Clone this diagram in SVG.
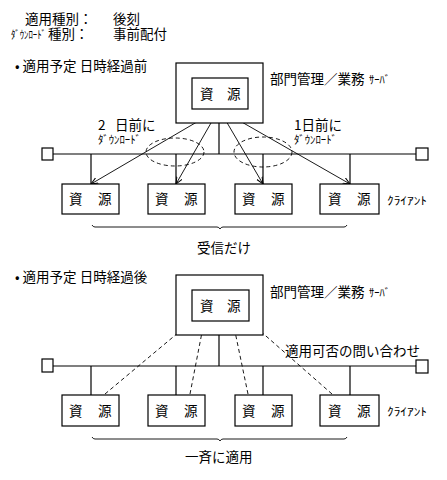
<svg xmlns="http://www.w3.org/2000/svg" width="447" height="480" viewBox="0 0 447 480">
<style>
text{font-family:"Noto Sans CJK JP","Noto Sans",sans-serif;fill:#000;font-size:13.5px}
.sm{font-size:11px}
.box{fill:#fff;stroke:#000;stroke-width:1.2}
.ln{fill:none;stroke:#000;stroke-width:1.2}
.ar{fill:none;stroke:#000;stroke-width:0.9}
.da{fill:none;stroke:#000;stroke-width:0.9;stroke-dasharray:4,3}
</style>
<defs>
<marker id="ah" markerWidth="8" markerHeight="8" refX="7" refY="4" orient="auto" markerUnits="userSpaceOnUse">
<path d="M0,1 L7,4 L0,7" fill="none" stroke="#000" stroke-width="1"/>
</marker>
</defs>
<rect width="447" height="480" fill="#fff"/>

<g id="header">
<text x="25" y="24">適用種別：</text>
<text x="113" y="24">後刻</text>
<text x="11" y="39" class="sm" textLength="35" lengthAdjust="spacingAndGlyphs">ﾀﾞｳﾝﾛｰﾄﾞ</text>
<text x="48" y="39">種別：</text>
<text x="113" y="39">事前配付</text>
<text x="15" y="71">• 適用予定 日時経過前</text>
<text x="15" y="282">• 適用予定 日時経過後</text>
</g>

<g id="connectors">
<line class="ln" x1="53" y1="154" x2="416" y2="154"/>
<line class="ln" x1="219" y1="123" x2="219" y2="154"/>
<line class="ln" x1="91" y1="154" x2="91" y2="184"/>
<line class="ln" x1="176" y1="154" x2="176" y2="184"/>
<line class="ln" x1="263" y1="154" x2="263" y2="184"/>
<line class="ln" x1="350" y1="154" x2="350" y2="184"/>
<line class="ar" x1="219" y1="109" x2="91" y2="184" marker-end="url(#ah)"/>
<line class="ar" x1="219" y1="109" x2="176" y2="184" marker-end="url(#ah)"/>
<line class="ar" x1="219" y1="109" x2="263" y2="184" marker-end="url(#ah)"/>
<line class="ar" x1="219" y1="109" x2="350" y2="184" marker-end="url(#ah)"/>
<ellipse class="da" cx="175" cy="152" rx="29" ry="14"/>
<ellipse class="da" cx="263" cy="152" rx="29" ry="15"/>
<path class="ar" d="M92,225 q1,2 3,2 H217 q2,0 3,2 q1,-2 3,-2 H344 q2,0 3,-2"/>
<line class="ln" x1="53" y1="366" x2="416" y2="366"/>
<line class="ln" x1="219" y1="335" x2="219" y2="366"/>
<line class="ln" x1="91" y1="366" x2="91" y2="395"/>
<line class="ln" x1="176" y1="366" x2="176" y2="395"/>
<line class="ln" x1="263" y1="366" x2="263" y2="395"/>
<line class="ln" x1="350" y1="366" x2="350" y2="395"/>
<line class="da" x1="105" y1="394" x2="191" y2="322" marker-end="url(#ah)"/>
<line class="da" x1="190" y1="394" x2="204" y2="322" marker-end="url(#ah)"/>
<line class="da" x1="248" y1="394" x2="233" y2="322" marker-end="url(#ah)"/>
<line class="da" x1="332" y1="394" x2="250" y2="322" marker-end="url(#ah)"/>
<path class="ar" d="M92,437 q1,2 3,2 H217 q2,0 3,2 q1,-2 3,-2 H344 q2,0 3,-2"/>
</g>

<g id="server1">
<rect class="box" x="176" y="63" width="87" height="60"/>
<rect class="box" x="192" y="78" width="56" height="31"/>
<text x="200" y="99">資</text>
<text x="227" y="99">源</text>
<text x="270" y="84">部門管理／業務</text>
<text x="369" y="84" class="sm" textLength="21" lengthAdjust="spacingAndGlyphs">ｻｰﾊﾞ</text>
</g>
<g id="term1L"><rect class="box" x="42" y="148" width="11" height="12"/></g>
<g id="term1R"><rect class="box" x="416" y="148" width="12" height="12"/></g>
<g id="c1a"><rect class="box" x="62" y="184" width="57" height="30"/><text x="69" y="204">資</text><text x="98" y="204">源</text></g>
<g id="c1b"><rect class="box" x="148" y="184" width="57" height="30"/><text x="155" y="204">資</text><text x="184" y="204">源</text></g>
<g id="c1c"><rect class="box" x="235" y="184" width="57" height="30"/><text x="242" y="204">資</text><text x="271" y="204">源</text></g>
<g id="c1d"><rect class="box" x="320" y="184" width="59" height="30"/><text x="328" y="204">資</text><text x="357" y="204">源</text></g>
<g id="labels1">
<text x="387" y="205" class="sm" textLength="40" lengthAdjust="spacingAndGlyphs">ｸﾗｲｱﾝﾄ</text>
<text x="98" y="130">2<tspan x="115">日前に</tspan></text>
<text x="98" y="144" class="sm" textLength="43" lengthAdjust="spacingAndGlyphs">ﾀﾞｳﾝﾛｰﾄﾞ</text>
<text x="294" y="130">1日前に</text>
<text x="294" y="144" class="sm" textLength="43" lengthAdjust="spacingAndGlyphs">ﾀﾞｳﾝﾛｰﾄﾞ</text>
<text x="197" y="253">受信だけ</text>
</g>

<g id="server2">
<rect class="box" x="176" y="275" width="87" height="60"/>
<rect class="box" x="192" y="290" width="57" height="31"/>
<text x="200" y="311">資</text>
<text x="227" y="311">源</text>
<text x="270" y="297">部門管理／業務</text>
<text x="369" y="297" class="sm" textLength="21" lengthAdjust="spacingAndGlyphs">ｻｰﾊﾞ</text>
</g>
<g id="term2L"><rect class="box" x="42" y="359" width="11" height="13"/></g>
<g id="term2R"><rect class="box" x="416" y="360" width="12" height="13"/></g>
<g id="c2a"><rect class="box" x="62" y="395" width="57" height="31"/><text x="69" y="416">資</text><text x="98" y="416">源</text></g>
<g id="c2b"><rect class="box" x="148" y="395" width="57" height="31"/><text x="155" y="416">資</text><text x="184" y="416">源</text></g>
<g id="c2c"><rect class="box" x="235" y="395" width="57" height="31"/><text x="242" y="416">資</text><text x="271" y="416">源</text></g>
<g id="c2d"><rect class="box" x="320" y="395" width="59" height="31"/><text x="328" y="416">資</text><text x="357" y="416">源</text></g>
<g id="labels2">
<text x="387" y="416" class="sm" textLength="40" lengthAdjust="spacingAndGlyphs">ｸﾗｲｱﾝﾄ</text>
<text x="285" y="356">適用可否の問い合わせ</text>
<text x="185" y="462">一斉に適用</text>
</g>
</svg>
